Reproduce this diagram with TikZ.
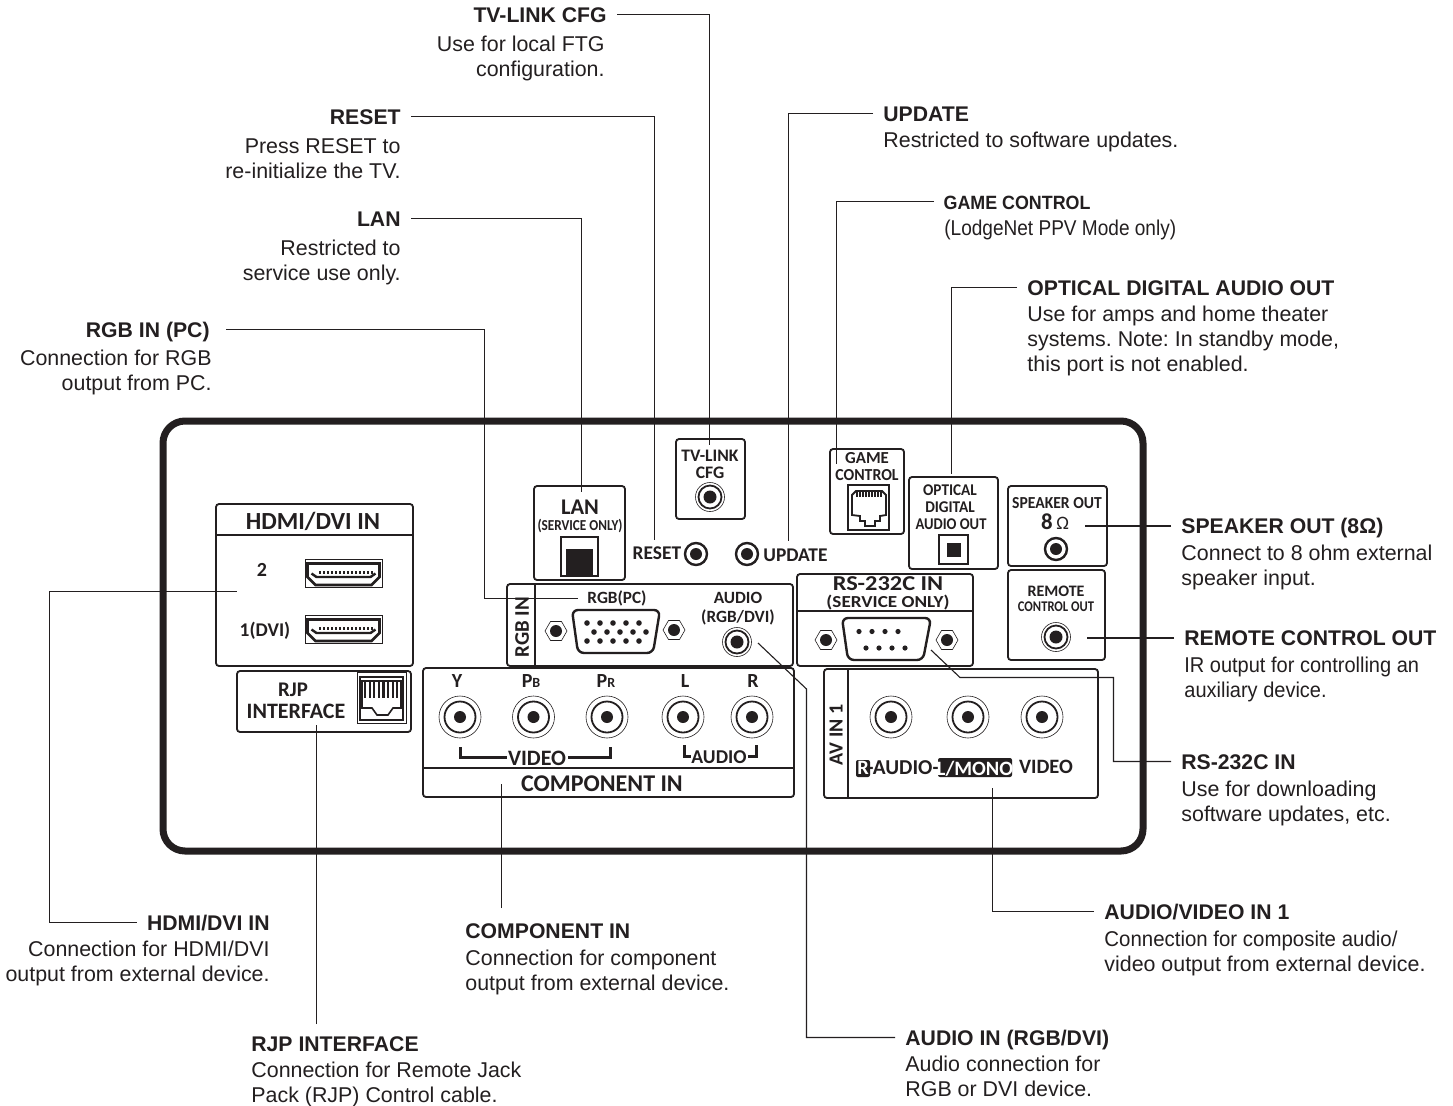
\documentclass[tikz,border=0pt]{standalone}
\usepackage{fontspec}
\setmainfont{Liberation Sans}
\newfontfamily\panelfont{Carlito}[BoldFont=Carlito Bold]
\usetikzlibrary{positioning, calc}
\definecolor{ink}{HTML}{231F20}

\begin{document}
\begin{tikzpicture}[
	x=0.5pt, y=-0.5pt,
	font=\fontsize{10.7}{12.5}\selectfont\frenchspacing,
	% Caption styles
	head/.style={font=\fontsize{10.6}{12.5}\selectfont\bfseries, text=ink, text height=7.6pt, text depth=0pt, inner ysep=0pt, inner xsep=5pt},
	bodyL/.style={anchor=north west, align=left, text=ink, inner sep=0pt},
	bodyR/.style={anchor=north east, align=right, text=ink, inner sep=0pt},
	leader/.style={draw=ink, line width=0.55pt},
	% Panel styles
	chassis/.style={draw=ink, line width=3.5pt, rounded corners=11pt},
	panel/.style={draw=ink, line width=0.9pt, rounded corners=1.5pt},
	rule/.style={draw=ink, line width=0.8pt},
	lbl/.style={font=\panelfont\bfseries\fontsize{#1}{#1}\selectfont, text=ink, inner sep=0pt, text depth=0pt},
	% Connector styles
	rca/.pic={
		\draw[ink, line width=0.3pt] (0,0) circle (21);
		\draw[ink, line width=0.9pt] (0,0) circle (15.5);
		\fill[ink] (0,0) circle (6);
	},
	mini/.pic={
		\draw[ink, line width=0.3pt] (0,0) circle (14.5);
		\draw[ink, line width=0.9pt] (0,0) circle (11.5);
		\fill[ink] (0,0) circle (6.5);
	},
	button/.pic={
		\draw[ink, line width=1.2pt] (0,0) circle (11);
		\fill[ink] (0,0) circle (6);
	},
	screw/.pic={
		\draw[ink, line width=0.3pt] (0:11) -- (60:11) -- (120:11) -- (180:11) -- (240:11) -- (300:11) -- cycle;
		\fill[ink] (0,0) circle (6);
	},
	hdmi/.pic={
		\draw[ink, line width=0.3pt] (-38.5,-14) rectangle (38.5,14);
		\draw[ink, line width=1.3pt] (-36,-9.5) -- (36,-9.5) -- (36,4) -- (28,12) -- (-28,12) -- (-36,4) -- cycle;
		\draw[ink, line width=1.2pt] (-32,0.5) -- (-27,4) -- (27,4) -- (32,0.5);
		\foreach \px in {-25,-21,...,27}
			\fill[ink] (\px,-1.6) rectangle ++(2,2.6);
	}
	]
	
	\useasboundingbox (0,0) rectangle (1453,1105);
	\fill[white] (0,0) rectangle (1453,1105);
	
	% ==============================================================================
	% CHASSIS AND PANELS
	% ==============================================================================
	\draw[chassis] (163,421) rectangle (1143,851);
	
	% HDMI/DVI IN
	\draw[panel] (216,504) rectangle (413,666);
	\draw[rule] (216,535) -- (413,535);
	\node[lbl=12.3] (hdmiTitle) at (313,521) {HDMI/DVI IN};
	\node[lbl=10] (hdmiTwo) at (262,570) {2};
	\node[lbl=9.7] (hdmiOne) at (265,629) {1(DVI)};
	\pic at (343.5,573) {hdmi};
	\pic at (343.5,629) {hdmi};
	
	% RJP INTERFACE
	\draw[panel] (237,671) rectangle (411,732);
	\node[lbl=10.4] (rjpOne) at (293,690) {RJP};
	\node[lbl=11] (rjpTwo) at (296,711) {INTERFACE};
	\draw[ink, line width=0.4pt] (357,672) rectangle (406,723);
	\draw[ink, line width=1.2pt] (360,677) rectangle (403,720);
	\foreach \px in {365,369.6,...,398}
		\draw[ink, line width=1.1pt] (\px,681) -- (\px,698);
	\draw[ink, line width=0.8pt] (362,681) -- (362,708) -- (372,708) -- (377,715) -- (388,715) -- (393,708) -- (401,708) -- (401,681) -- cycle;
	
	% COMPONENT IN
	\draw[panel] (423,668) rectangle (794,797);
	\draw[rule] (423,768) -- (794,768);
	\node[lbl=10] (yLbl) at (457,681) {Y};
	\node[lbl=10] (pbLbl) at (531,681) {P{\fontsize{7}{7}\selectfont B}};
	\node[lbl=10] (prLbl) at (606,681) {P{\fontsize{7}{7}\selectfont R}};
	\node[lbl=10] (lLbl) at (685,681) {L};
	\node[lbl=10] (rLbl) at (753,681) {R};
	\foreach \px in {460,533.5,607,683,752}
		\pic at (\px,717) {rca};
	\node[lbl=11] (videoLbl) at (537,758) {VIDEO};
	\node[lbl=9.8] (audioLbl) at (719,757) {AUDIO};
	\draw[ink, line width=1.5pt] (460,747) -- (460,757) -- (507,757);
	\draw[ink, line width=1.5pt] (568,757) -- (610,757) -- (610,747);
	\draw[ink, line width=1.5pt] (684,745) -- (684,756) -- (691,756);
	\draw[ink, line width=1.5pt] (748,756) -- (756,756) -- (756,745);
	\node[lbl=12] (compTitle) at (602,784) {COMPONENT IN};
	
	% RGB IN
	\draw[panel] (507,584) rectangle (793,666);
	\draw[rule] (535,584) -- (535,666);
	\node[lbl=10.4, rotate=90] (rgbTitle) at (522,627) {RGB IN};
	\node[lbl=8.6] (rgbPc) at (617,597) {RGB(PC)};
	\node[lbl=8.6] (audioOne) at (738,598) {AUDIO};
	\node[lbl=8.6] (audioTwo) at (738,616) {(RGB/DVI)};
	\pic at (737,642) {mini};
	\pic at (556,631) {screw};
	\pic at (674,630) {screw};
	\draw[ink, line width=1.2pt, rounded corners=3pt] (572,610) -- (660,610) -- (653,653) -- (578,653) -- cycle;
	\foreach \px in {587,600,...,640} {
		\fill[ink] (\px,623) circle (2.8);
		\fill[ink] (\px,641) circle (2.8);
	}
	\foreach \px in {594,607,...,646}
		\fill[ink] (\px,632) circle (2.8);
	
	% LAN
	\draw[panel] (534,486) rectangle (625,580);
	\node[lbl=11.2] (lanTitle) at (580,507) {LAN};
	\node[lbl=7.6, xscale=.87] (lanNote) at (580,525) {(SERVICE ONLY)};
	\draw[ink, line width=0.7pt] (561,537) rectangle (598,576);
	\fill[ink] (566,549) rectangle (593,576);
	
	% RESET, UPDATE, TV-LINK
	\node[lbl=9.7, anchor=east] (resetLbl) at (681.5,553) {RESET};
	\pic at (696,554) {button};
	\pic at (747,554) {button};
	\node[lbl=9.7, anchor=west] (updateLbl) at (763,555) {UPDATE};
	\draw[panel] (676,439) rectangle (745,519);
	\node[lbl=8.8] (tvOne) at (710,456) {TV-LINK};
	\node[lbl=8.8] (tvTwo) at (710,473) {CFG};
	\pic at (710,497) {mini};
	
	% GAME CONTROL
	\draw[panel] (830,449) rectangle (904,534);
	\node[lbl=8.4] (gameOne) at (867,458) {GAME};
	\node[lbl=8.4, xscale=.94] (gameTwo) at (867,475) {CONTROL};
	\draw[ink, line width=0.6pt] (848,485) rectangle (889,530);
	\draw[ink, line width=0.9pt] (852,495) -- (856,491) -- (882,491) -- (886,495) -- (886,515) -- (880,516) -- (880,521) -- (875,521) -- (875,526) -- (865,526) -- (865,521) -- (860,521) -- (860,516) -- (852,515) -- cycle;
	\foreach \px in {857,860,...,881}
		\draw[ink, line width=0.7pt] (\px,491) -- (\px,497);
	
	% OPTICAL
	\draw[panel] (909,477) rectangle (998,569);
	\node[lbl=8.2, xscale=.93] (optOne) at (950,490) {OPTICAL};
	\node[lbl=8.2, xscale=.93] (optTwo) at (950,507) {DIGITAL};
	\node[lbl=8.2, xscale=.89] (optThree) at (951,524) {AUDIO OUT};
	\draw[ink, line width=0.9pt] (939,535) rectangle (968,564);
	\fill[ink] (947,543) rectangle (961,557);
	
	% SPEAKER OUT
	\draw[panel] (1008,486) rectangle (1107,566);
	\node[lbl=8.4, xscale=.93] (spkOne) at (1057,503) {SPEAKER OUT};
	\node[lbl=11.4] (spkTwo) at (1055,522) {8\,{\mdseries\fontsize{9.5}{9.5}\selectfont Ω}};
	\pic at (1056,549) {button};
	
	% REMOTE CONTROL OUT
	\draw[panel] (1008,570) rectangle (1105,660);
	\node[lbl=8] (remOne) at (1056,591) {REMOTE};
	\node[lbl=7.4, xscale=.85] (remTwo) at (1056,607) {CONTROL OUT};
	\pic at (1056,637) {mini};
	
	% RS-232C IN
	\draw[panel] (797,574) rectangle (973,666);
	\draw[rule] (797,611) -- (973,611);
	\node[lbl=10.6, xscale=1.15] (rsOne) at (888,584) {RS-232C IN};
	\node[lbl=8.4, xscale=1.14] (rsTwo) at (888,601.5) {(SERVICE ONLY)};
	\pic at (826,640) {screw};
	\pic at (947,640) {screw};
	\draw[ink, line width=1.2pt, rounded corners=3pt] (842,618) -- (931,618) -- (923,660) -- (848,660) -- cycle;
	\foreach \px in {859,872,...,910}
		\fill[ink] (\px,631.5) circle (2.6);
	\foreach \px in {866,879,...,905}
		\fill[ink] (\px,648) circle (2.6);
	
	% AV IN 1
	\draw[panel] (824,669) rectangle (1098,798);
	\draw[rule] (848,669) -- (848,798);
	\node[lbl=10, rotate=90] (avTitle) at (836,735) {AV IN 1};
	\foreach \px in {891,968,1042}
		\pic at (\px,717) {rca};
	\fill[ink, rounded corners=1pt] (856,760) rectangle (870,777);
	\fill[ink, rounded corners=1pt] (938,758) rectangle (1012,777);
	\node[lbl=10.2, text=white] (avR) at (863,768) {R};
	\node[lbl=10.6] (avAudio) at (903,768) {-AUDIO-};
	\node[lbl=10.2, text=white] (avMono) at (975,768) {L/MONO};
	\node[lbl=10.2] (avVideo) at (1046,767) {VIDEO};
	
	% ==============================================================================
	% CAPTIONS AND LEADERS
	% ==============================================================================
	
	% TV-LINK CFG
	\node[head, anchor=east] (tvHead) at (617,14.5) {TV-LINK CFG};
	\node[bodyR] (tvBody) at (605,36) {Use for local FTG\\configuration.};
	\coordinate (tvEnd) at (709.5,445);
	\draw[leader] (tvHead.east) -| (tvEnd);
	
	% RESET
	\node[head, anchor=east] (resetHead) at (411,116.5) {RESET};
	\node[bodyR] (resetBody) at (401,138) {Press RESET to\\re-initialize the TV.};
	\coordinate (resetEnd) at (654.5,540);
	\draw[leader] (resetHead.east) -| (resetEnd);
	
	% LAN
	\node[head, anchor=east] (lanHead) at (411,218.5) {LAN};
	\node[bodyR] (lanBody) at (401,240) {Restricted to\\service use only.};
	\coordinate (lanEnd) at (581.5,492);
	\draw[leader] (lanHead.east) -| (lanEnd);
	
	% RGB IN (PC)
	\node[head, anchor=east, inner xsep=8pt] (pcHead) at (226,329.5) {RGB IN (PC)};
	\node[bodyR] (pcBody) at (212,350) {Connection for RGB\\output from PC.};
	\coordinate (pcEnd) at (578,598.5);
	\coordinate (pcBend) at (484.5,598.5);
	\draw[leader] (pcHead.east) -| (pcBend) -- (pcEnd);
	
	% HDMI/DVI IN
	\node[head, anchor=east] (hdmiHead) at (280,922.5) {HDMI/DVI IN};
	\node[bodyR] (hdmiBody) at (270,941) {Connection for HDMI/DVI\\output from external device.};
	\coordinate (hdmiEnd) at (237,591.5);
	\coordinate (hdmiBend) at (49.5,591.5);
	\draw[leader] (hdmiHead.west) -| (hdmiBend) -- (hdmiEnd);
	
	% RJP INTERFACE
	\node[head, anchor=west, inner xsep=0pt] (rjpHead) at (251,1044) {RJP INTERFACE};
	\node[bodyL] (rjpBody) at (251,1061.5) {Connection for Remote Jack\\Pack (RJP) Control cable.};
	\coordinate (rjpEnd) at (316.5,725);
	\coordinate (rjpStart) at (316.5,1024);
	\draw[leader] (rjpStart) -- (rjpEnd);
	
	% COMPONENT IN
	\node[head, anchor=west, inner xsep=0pt] (compHead) at (465,931) {COMPONENT IN};
	\node[bodyL] (compBody) at (465,950) {Connection for component\\output from external device.};
	\coordinate (compEnd) at (501.5,784);
	\coordinate (compStart) at (501.5,908);
	\draw[leader] (compStart) -- (compEnd);
	
	% AUDIO IN (RGB/DVI)
	\node[head, anchor=west] (audioHead) at (895,1037.5) {AUDIO IN (RGB/DVI)};
	\node[bodyL] (audioBody) at (905,1056) {Audio connection for\\RGB or DVI device.};
	\coordinate (audioEnd) at (758,643);
	\coordinate (audioBend) at (806.5,689);
	\draw[leader] (audioHead.west) -| (audioBend) -- (audioEnd);
	
	% AUDIO/VIDEO IN 1
	\node[head, anchor=west] (avHead) at (1094,911.5) {AUDIO/VIDEO IN 1};
	\node[bodyL] (avBody) at (1104,931) {\scalebox{.955}[1]{Connection for composite audio/}\\video output from external device.};
	\coordinate (avEnd) at (992.5,788);
	\draw[leader] (avHead.west) -| (avEnd);
	
	% RS-232C IN
	\node[head, anchor=west] (rsHead) at (1171,761.5) {RS-232C IN};
	\node[bodyL] (rsBody) at (1181,781) {Use for downloading\\software updates, etc.};
	\coordinate (rsEnd) at (931,650);
	\coordinate (rsElbow) at (960,677.5);
	\coordinate (rsBend) at (1113.5,677.5);
	\draw[leader] (rsHead.west) -| (rsBend) -- (rsElbow) -- (rsEnd);
	
	% REMOTE CONTROL OUT
	\node[head, anchor=west] (remHead) at (1174,638) {REMOTE CONTROL OUT};
	\node[bodyL, xscale=.935] (remBody) at (1184,657) {IR output for controlling an\\auxiliary device.};
	\coordinate (remEnd) at (1087,638);
	\draw[leader] (remHead.west) -- (remEnd);
	
	% SPEAKER OUT
	\node[head, anchor=west] (spkHead) at (1171,526) {SPEAKER OUT (8Ω)};
	\node[bodyL] (spkBody) at (1181,545) {Connect to 8 ohm external\\speaker input.};
	\coordinate (spkEnd) at (1085,526);
	\draw[leader] (spkHead.west) -- (spkEnd);
	
	% OPTICAL DIGITAL AUDIO OUT
	\node[head, anchor=west] (optHead) at (1017,287.5) {OPTICAL DIGITAL AUDIO OUT};
	\node[bodyL] (optBody) at (1027,306) {Use for amps and home theater\\systems. Note: In standby mode,\\this port is not enabled.};
	\coordinate (optEnd) at (951.5,474);
	\draw[leader] (optHead.west) -| (optEnd);
	
	% GAME CONTROL
	\node[head, anchor=west, font=\fontsize{9.6}{12.5}\selectfont\bfseries, xscale=.93] (gameHead) at (934,201.5) {GAME CONTROL};
	\node[bodyL, xscale=.89] (gameBody) at (944,220) {(LodgeNet PPV Mode only)};
	\coordinate (gameEnd) at (836.5,464);
	\draw[leader] (gameHead.west) -| (gameEnd);
	
	% UPDATE
	\node[head, anchor=west] (updHead) at (873,113.5) {UPDATE};
	\node[bodyL] (updBody) at (883,132) {Restricted to software updates.};
	\coordinate (updEnd) at (788.5,541);
	\draw[leader] (updHead.west) -| (updEnd);
	
\end{tikzpicture}
\end{document}
